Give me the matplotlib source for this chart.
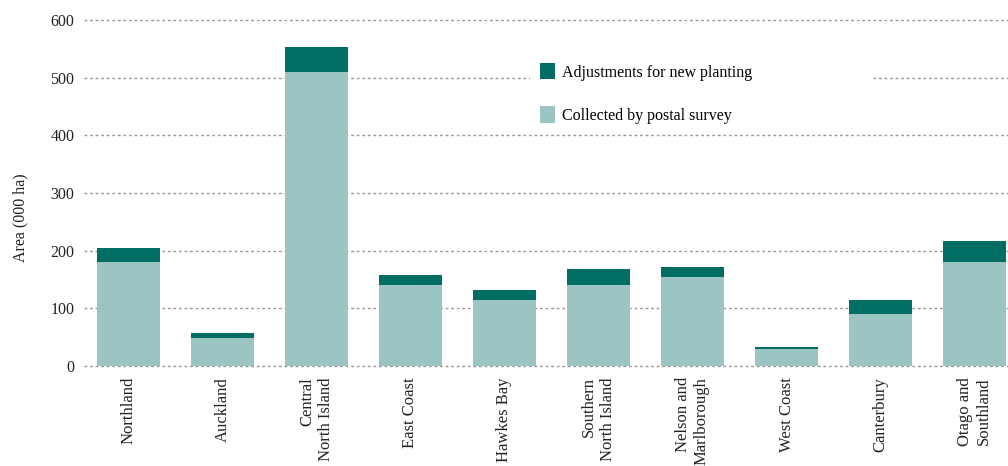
import matplotlib
matplotlib.use("Agg")
import matplotlib.pyplot as plt
from matplotlib.patches import Rectangle
import numpy as np

plt.rcParams['font.family'] = ['Liberation Serif', 'DejaVu Serif']

regions = ['Northland', 'Auckland', 'Central\nNorth Island', 'East Coast',
           'Hawkes Bay', 'Southern\nNorth Island', 'Nelson and\nMarlborough',
           'West Coast', 'Canterbury', 'Otago and\nSouthland']
postal = [181, 48, 510, 141, 115, 141, 155, 30, 90, 181]
adjust = [23, 9, 43, 17, 17, 28, 17, 3, 25, 35]

light = '#9cc4c2'
dark = '#016d63'

fig = plt.figure(figsize=(10.08, 4.66), dpi=100)
ax = fig.add_axes([84 / 1008, 100 / 466, 924 / 1008, 346 / 466])

x = np.arange(len(regions))
ax.bar(x, postal, width=0.67, color=light, label='Collected by postal survey', zorder=2)
ax.bar(x, adjust, width=0.67, bottom=postal, color=dark,
       label='Adjustments for new planting', zorder=2)

ax.set_xlim(-0.473, 9.356)
ax.set_ylim(0, 600)
ax.set_yticks(range(0, 601, 100))
ax.yaxis.grid(True, linestyle=(0, (2, 2)), color='#999999', linewidth=1)
ax.set_axisbelow(True)
for line in ax.get_ygridlines():
    line.set_clip_on(False)
for s in ax.spines.values():
    s.set_visible(False)
ax.tick_params(axis='y', length=0, pad=7, labelsize=11.5, labelcolor='#222222')
ax.tick_params(axis='x', length=0, pad=8)
ax.set_xticks(x)
ax.set_xticklabels(regions, rotation=90, ha='center', va='top',
                   multialignment='right', fontsize=12, color='#222222')
ax.set_ylabel('Area (000 ha)', fontsize=11.5, color='#222222')
ax.yaxis.set_label_coords(-0.060, 0.428)

# white box behind legend
ax.add_patch(Rectangle((530 / 1008, 1 - 128 / 466), 343 / 1008, 95 / 466,
                       transform=fig.transFigure, facecolor='white',
                       edgecolor='none', zorder=1.5))

h, l = ax.get_legend_handles_labels()
leg = ax.legend(h[::-1], l[::-1], loc='upper left',
                bbox_to_anchor=(540 / 1008, 1 - 63 / 466),
                bbox_transform=fig.transFigure, frameon=False,
                borderpad=0, borderaxespad=0, fontsize=11.5,
                handlelength=0.95, handleheight=1.2, handletextpad=0.45,
                labelspacing=1.6)
leg.set_zorder(5)

fig.savefig('out.png', dpi=100)
